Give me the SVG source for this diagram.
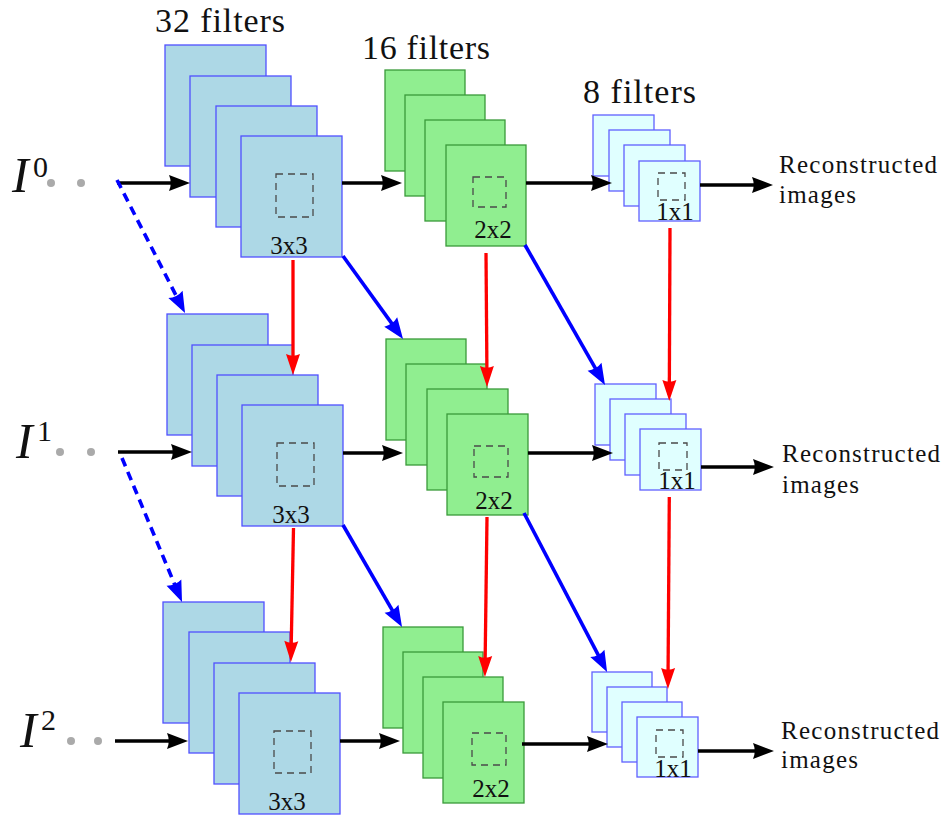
<svg xmlns="http://www.w3.org/2000/svg" width="944" height="817" viewBox="0 0 944 817">
<style>
  .b32 { fill: #ADD8E6; stroke: #5050ff; stroke-width: 1.3; }
  .b16 { fill: #90EE90; stroke: #3a9a3a; stroke-width: 1.3; }
  .b8 { fill: #E0FFFF; stroke: #6060ff; stroke-width: 1.3; }
  .win { fill: none; stroke: #4a4a4a; stroke-width: 1.3; stroke-dasharray: 7 5; }
  text { font-family: 'Liberation Serif', 'Times New Roman', Tinos, 'Noto Serif', 'DejaVu Serif', serif; fill: #111; }
  .klabel { font-size: 25px; text-anchor: middle; }
  .title { font-size: 34px; }
  .out { font-size: 25px; }
  .iv { font-style: italic; font-size: 50px; }
  .sup { font-size: 30px; }
  .dot { fill: #aaaaaa; }
  .k { stroke: #000; stroke-width: 3.6; fill: none; marker-end: url(#ah-k); }
  .r { stroke: #ff0000; stroke-width: 3.3; fill: none; marker-end: url(#ah-r); }
  .bl { stroke: #0000ff; stroke-width: 3.6; fill: none; marker-end: url(#ah-b); }
  .bd { stroke: #0000ff; stroke-width: 3.6; fill: none; stroke-dasharray: 9 6; marker-end: url(#ah-b); }
</style>
<defs>
  <marker id="ah-k" markerUnits="userSpaceOnUse" markerWidth="24" markerHeight="18" refX="15" refY="8" orient="auto" overflow="visible">
    <path d="M0,0 L21,8 L0,16 Q3.5,8 0,0 Z" fill="#000"/>
  </marker>
  <marker id="ah-r" markerUnits="userSpaceOnUse" markerWidth="24" markerHeight="18" refX="15" refY="7" orient="auto" overflow="visible">
    <path d="M0,0 L21,7 L0,14 Q3.5,7 0,0 Z" fill="#ff0000"/>
  </marker>
  <marker id="ah-b" markerUnits="userSpaceOnUse" markerWidth="24" markerHeight="18" refX="15" refY="8" orient="auto" overflow="visible">
    <path d="M0,0 L21,8 L0,16 Q3.5,8 0,0 Z" fill="#0000ff"/>
  </marker>
</defs>
<rect x="0" y="0" width="944" height="817" fill="#ffffff"/>

<g id="titles" font-family="'Liberation Serif', 'Times New Roman', Tinos, 'Noto Serif', 'DejaVu Serif', serif">
  <text class="title" x="155" y="32" textLength="130" lengthAdjust="spacing">32 filters</text>
  <text class="title" x="362" y="59" textLength="128" lengthAdjust="spacing">16 filters</text>
  <text class="title" x="583" y="103" textLength="113" lengthAdjust="spacing">8 filters</text>
</g>

<g id="input0">
  <text class="iv" x="12" y="192">I</text>
  <text class="sup" x="33" y="177">0</text>
  <circle class="dot" cx="51" cy="183" r="4"/>
  <circle class="dot" cx="81" cy="183" r="4"/>
</g>
<g id="input1">
  <text class="iv" x="16" y="458">I</text>
  <text class="sup" x="37" y="441">1</text>
  <circle class="dot" cx="60" cy="452" r="4"/>
  <circle class="dot" cx="91" cy="452" r="4"/>
</g>
<g id="input2">
  <text class="iv" x="20" y="747">I</text>
  <text class="sup" x="41" y="730">2</text>
  <circle class="dot" cx="71" cy="741" r="4"/>
  <circle class="dot" cx="98" cy="741" r="4"/>
</g>

<g id="conv32-r0">
  <rect class="b32" x="165" y="45" width="101" height="121"/>
  <rect class="b32" x="190" y="76" width="101" height="121"/>
  <rect class="b32" x="216" y="106" width="101" height="121"/>
  <rect class="b32" x="241" y="136" width="101" height="121"/>
  <rect class="win" x="276" y="174" width="37" height="43"/>
  <text class="klabel" x="289" y="254">3x3</text>
</g>
<g id="conv16-r0">
  <rect class="b16" x="385" y="70" width="80" height="101"/>
  <rect class="b16" x="405" y="95" width="80" height="101"/>
  <rect class="b16" x="425" y="120" width="80" height="101"/>
  <rect class="b16" x="446" y="145" width="80" height="101"/>
  <rect class="win" x="473" y="177" width="33" height="30"/>
  <text class="klabel" x="493" y="238">2x2</text>
</g>
<g id="conv8-r0">
  <rect class="b8" x="593" y="115" width="61" height="61"/>
  <rect class="b8" x="609" y="130" width="61" height="61"/>
  <rect class="b8" x="624" y="145" width="61" height="61"/>
  <rect class="b8" x="639" y="161" width="61" height="60"/>
  <rect class="win" x="658" y="173" width="27" height="27"/>
  <text class="klabel" x="675" y="220">1x1</text>
</g>
<g id="out-r0">
  <text class="out" x="779" y="173" textLength="158" lengthAdjust="spacing">Reconstructed</text>
  <text class="out" x="779" y="203" textLength="77" lengthAdjust="spacing">images</text>
</g>

<g id="conv32-r1">
  <rect class="b32" x="167" y="314" width="101" height="121"/>
  <rect class="b32" x="192" y="345" width="101" height="121"/>
  <rect class="b32" x="217" y="375" width="101" height="121"/>
  <rect class="b32" x="242" y="405" width="101" height="121"/>
  <rect class="win" x="277" y="443" width="37" height="43"/>
  <text class="klabel" x="291" y="523">3x3</text>
</g>
<g id="conv16-r1">
  <rect class="b16" x="386" y="339" width="80" height="101"/>
  <rect class="b16" x="406" y="364" width="81" height="101"/>
  <rect class="b16" x="427" y="389" width="81" height="101"/>
  <rect class="b16" x="447" y="414" width="81" height="101"/>
  <rect class="win" x="474" y="446" width="34" height="31"/>
  <text class="klabel" x="494" y="509">2x2</text>
</g>
<g id="conv8-r1">
  <rect class="b8" x="595" y="384" width="61" height="61"/>
  <rect class="b8" x="610" y="399" width="61" height="61"/>
  <rect class="b8" x="625" y="414" width="61" height="61"/>
  <rect class="b8" x="640" y="429" width="61" height="61"/>
  <rect class="win" x="659" y="443" width="28" height="27"/>
  <text class="klabel" x="677" y="489">1x1</text>
</g>
<g id="out-r1">
  <text class="out" x="782" y="462" textLength="158" lengthAdjust="spacing">Reconstructed</text>
  <text class="out" x="782" y="493" textLength="77" lengthAdjust="spacing">images</text>
</g>

<g id="conv32-r2">
  <rect class="b32" x="163" y="602" width="101" height="121"/>
  <rect class="b32" x="189" y="632" width="101" height="121"/>
  <rect class="b32" x="214" y="663" width="101" height="121"/>
  <rect class="b32" x="239" y="693" width="101" height="121"/>
  <rect class="win" x="274" y="731" width="37" height="42"/>
  <text class="klabel" x="287" y="810">3x3</text>
</g>
<g id="conv16-r2">
  <rect class="b16" x="383" y="627" width="80" height="101"/>
  <rect class="b16" x="403" y="652" width="80" height="101"/>
  <rect class="b16" x="423" y="677" width="80" height="101"/>
  <rect class="b16" x="443" y="702" width="81" height="101"/>
  <rect class="win" x="472" y="733" width="34" height="32"/>
  <text class="klabel" x="491" y="797">2x2</text>
</g>
<g id="conv8-r2">
  <rect class="b8" x="592" y="672" width="60" height="60"/>
  <rect class="b8" x="607" y="687" width="60" height="60"/>
  <rect class="b8" x="622" y="702" width="60" height="60"/>
  <rect class="b8" x="637" y="717" width="61" height="60"/>
  <rect class="win" x="656" y="730" width="27" height="27"/>
  <text class="klabel" x="673" y="777">1x1</text>
</g>
<g id="out-r2">
  <text class="out" x="781" y="739" textLength="158" lengthAdjust="spacing">Reconstructed</text>
  <text class="out" x="781" y="768" textLength="77" lengthAdjust="spacing">images</text>
</g>

<g id="connectors">
  <line class="k" x1="117" y1="183" x2="184" y2="183"/>
  <line class="k" x1="342" y1="183" x2="396" y2="183"/>
  <line class="k" x1="526" y1="183" x2="606" y2="183"/>
  <line class="k" x1="700" y1="185" x2="767" y2="185"/>

  <line class="k" x1="118" y1="452" x2="186" y2="452"/>
  <line class="k" x1="343" y1="453" x2="397" y2="453"/>
  <line class="k" x1="528" y1="453" x2="607" y2="453"/>
  <line class="k" x1="701" y1="467" x2="768" y2="467"/>

  <line class="k" x1="115" y1="741" x2="182" y2="741"/>
  <line class="k" x1="340" y1="741" x2="394" y2="741"/>
  <line class="k" x1="522" y1="744" x2="602" y2="744"/>
  <line class="k" x1="698" y1="751" x2="768" y2="751"/>

  <line class="bd" x1="117" y1="180" x2="182.3" y2="307.7"/>
  <line class="bd" x1="122" y1="458" x2="179.7" y2="596.5"/>

  <line class="bl" x1="343" y1="256" x2="399.5" y2="334.1"/>
  <line class="bl" x1="525" y1="245" x2="602" y2="379.8"/>
  <line class="bl" x1="343" y1="525" x2="399" y2="621.8"/>
  <line class="bl" x1="524" y1="513" x2="604.3" y2="666.7"/>

  <line class="r" x1="293" y1="260" x2="293" y2="369"/>
  <line class="r" x1="486" y1="253" x2="487" y2="381"/>
  <line class="r" x1="670" y1="228" x2="669.3" y2="395"/>
  <line class="r" x1="293.5" y1="528" x2="291" y2="656"/>
  <line class="r" x1="487" y1="517" x2="485" y2="671"/>
  <line class="r" x1="669.3" y1="497" x2="668" y2="683"/>
</g>
</svg>
